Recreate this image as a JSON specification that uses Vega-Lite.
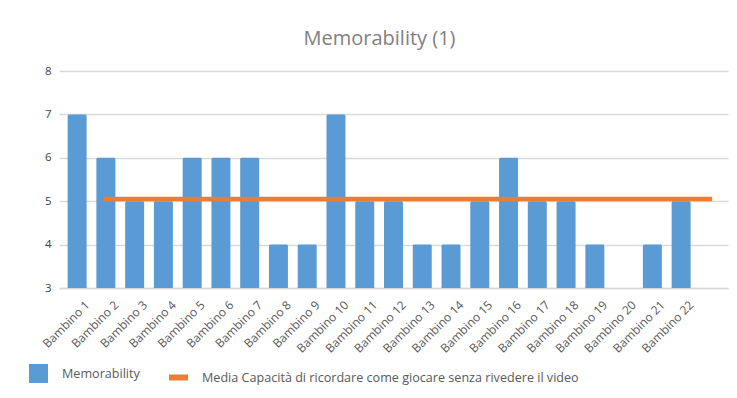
{
  "$schema": "https://vega.github.io/schema/vega-lite/v6.json",
  "autosize": "none",
  "width": 669,
  "height": 217,
  "padding": {"left": 59, "top": 71, "right": 9, "bottom": 110},
  "background": "white",
  "config": {
    "view": {"stroke": null},
    "font": "Open Sans",
    "axis": {"labelFont": "Open Sans", "labelColor": "#595959", "labelFontSize": 10.5}
  },
  "title": {
    "text": "Memorability (1)",
    "font": "Open Sans",
    "fontSize": 20,
    "fontWeight": "normal",
    "color": "#7f7f7f",
    "anchor": "middle",
    "dx": -14,
    "offset": 16
  },
  "data": {
    "values": [
      {"bambino": "Bambino 1", "memorability": 7, "media": null},
      {"bambino": "Bambino 2", "memorability": 6, "media": 5.05},
      {"bambino": "Bambino 3", "memorability": 5, "media": 5.05},
      {"bambino": "Bambino 4", "memorability": 5, "media": 5.05},
      {"bambino": "Bambino 5", "memorability": 6, "media": 5.05},
      {"bambino": "Bambino 6", "memorability": 6, "media": 5.05},
      {"bambino": "Bambino 7", "memorability": 6, "media": 5.05},
      {"bambino": "Bambino 8", "memorability": 4, "media": 5.05},
      {"bambino": "Bambino 9", "memorability": 4, "media": 5.05},
      {"bambino": "Bambino 10", "memorability": 7, "media": 5.05},
      {"bambino": "Bambino 11", "memorability": 5, "media": 5.05},
      {"bambino": "Bambino 12", "memorability": 5, "media": 5.05},
      {"bambino": "Bambino 13", "memorability": 4, "media": 5.05},
      {"bambino": "Bambino 14", "memorability": 4, "media": 5.05},
      {"bambino": "Bambino 15", "memorability": 5, "media": 5.05},
      {"bambino": "Bambino 16", "memorability": 6, "media": 5.05},
      {"bambino": "Bambino 17", "memorability": 5, "media": 5.05},
      {"bambino": "Bambino 18", "memorability": 5, "media": 5.05},
      {"bambino": "Bambino 19", "memorability": 4, "media": 5.05},
      {"bambino": "Bambino 20", "memorability": null, "media": 5.05},
      {"bambino": "Bambino 21", "memorability": 4, "media": 5.05},
      {"bambino": "Bambino 22", "memorability": 5, "media": 5.05},
      {"bambino": " ", "memorability": null, "media": 5.05}
    ]
  },
  "encoding": {
    "x": {
      "field": "bambino",
      "type": "nominal",
      "sort": null,
      "title": null,
      "scale": {
        "domain": ["Bambino 1", "Bambino 2", "Bambino 3", "Bambino 4", "Bambino 5", "Bambino 6", "Bambino 7", "Bambino 8", "Bambino 9", "Bambino 10", "Bambino 11", "Bambino 12", "Bambino 13", "Bambino 14", "Bambino 15", "Bambino 16", "Bambino 17", "Bambino 18", "Bambino 19", "Bambino 20", "Bambino 21", "Bambino 22", " "],
        "paddingInner": 0.34,
        "paddingOuter": 0.3
      },
      "axis": {
        "labelAngle": -45,
        "labelAlign": "right",
        "labelBaseline": "top",
        "labelFontSize": 12,
        "labelPadding": 11,
        "labelOffset": 7,
        "labelOverlap": false,
        "labelBound": false,
        "labelLimit": 0,
        "ticks": false,
        "domain": true,
        "domainColor": "#d9d9d9",
        "domainWidth": 1.5,
        "grid": false
      }
    }
  },
  "layer": [
    {
      "mark": {"type": "bar", "cornerRadiusTopLeft": 1.5, "cornerRadiusTopRight": 1.5},
      "encoding": {
        "y": {
          "field": "memorability",
          "type": "quantitative",
          "title": null,
          "scale": {"domain": [3, 8], "nice": false, "zero": false},
          "axis": {
            "values": [3, 4, 5, 6, 7, 8],
            "domain": false,
            "ticks": false,
            "labelPadding": 8,
            "labelColor": "#404040",
            "labelFontSize": 11.5,
            "gridColor": "#d9d9d9",
            "gridWidth": 1.5
          }
        },
        "y2": {"datum": 3},
        "fill": {
          "datum": "Memorability",
          "type": "nominal",
          "scale": {"range": ["#5b9bd5"]},
          "legend": {
            "title": null,
            "orient": "none",
            "legendX": -30,
            "legendY": 293,
            "symbolType": "square",
            "symbolSize": 361,
            "symbolStrokeWidth": 0,
            "labelOffset": 14,
            "labelFontSize": 12.6,
            "labelColor": "#595959",
            "labelFont": "Open Sans",
            "labelLimit": 0
          }
        }
      }
    },
    {
      "mark": {"type": "line", "strokeWidth": 4.5, "strokeCap": "square"},
      "encoding": {
        "y": {"field": "media", "type": "quantitative"},
        "stroke": {
          "datum": "Media Capacità di ricordare come giocare senza rivedere il video",
          "type": "nominal",
          "scale": {"range": ["#ed7d31"]},
          "legend": {
            "title": null,
            "orient": "none",
            "legendX": 107,
            "legendY": 294,
            "symbolType": "stroke",
            "symbolSize": 361,
            "symbolStrokeWidth": 6,
            "labelOffset": 11,
            "labelFontSize": 12.6,
            "labelColor": "#595959",
            "labelFont": "Open Sans",
            "labelLimit": 0
          }
        }
      }
    }
  ]
}
